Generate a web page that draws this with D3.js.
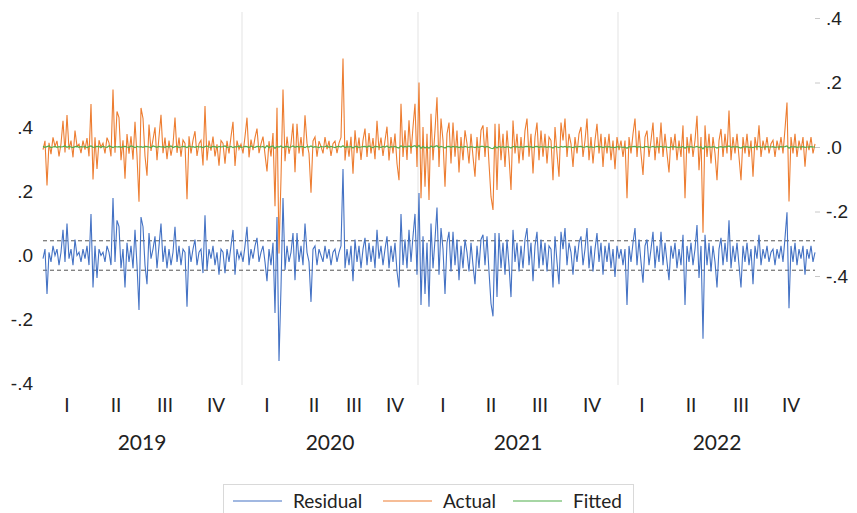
<!DOCTYPE html>
<html>
<head>
<meta charset="utf-8">
<script src="https://cdn.jsdelivr.net/npm/d3@7"></script>
<style>
  body { margin: 0; background: #fff; }
  svg { display: block; font-family: Lato, "Open Sans", sans-serif; }
  .tick text { fill: #222; }
</style>
</head>
<body>
<div id="chart"></div>
<script>
var years = ['2019', '2020', '2021', '2022'];
var quarterLabels = ['I', 'II', 'III', 'IV'];
// observations per quarter, 2019Q1 .. 2022Q4
var quarterLengths = [25, 24, 25, 26, 25, 22, 18, 23, 25, 23, 26, 26, 24, 25, 25, 25];
var leftTicks = [0.4, 0.2, 0, -0.2, -0.4];
var rightTicks = [0.4, 0.2, 0, -0.2, -0.4];
// +/- one standard error of regression
var residualBand = [-0.046, 0.046];

var residual = [
  -0.01, 0.02, -0.12, 0.01, -0.02, 0.03, 0.00, 0.02, -0.03, 0.01,
  0.08, -0.02, 0.10, -0.01, 0.02, -0.03, 0.05, 0.00, 0.01, -0.02,
  0.02, -0.01, 0.03, -0.03, 0.13, -0.10, 0.03, -0.07, 0.02, 0.00,
  0.01, -0.02, 0.03, 0.01, -0.03, 0.18, -0.02, 0.11, 0.09, -0.04,
  0.02, -0.10, 0.04, -0.02, 0.03, -0.04, 0.08, -0.03, -0.17, 0.12,
  0.09, -0.03, -0.09, 0.07, -0.01, 0.02, 0.06, -0.04, 0.03, 0.10,
  -0.02, 0.03, -0.04, 0.02, -0.03, 0.01, 0.09, -0.02, 0.03, -0.03,
  0.02, 0.01, -0.16, 0.03, -0.02, 0.02, 0.05, -0.03, 0.01, 0.02,
  -0.055, 0.126, -0.045, 0.02, -0.01, 0.03, -0.03, 0.01, -0.06, 0.02,
  0.01, -0.055, 0.02, -0.02, 0.03, 0.08, -0.06, 0.02, -0.01, 0.01,
  -0.02, 0.03, 0.09, -0.03, 0.02, -0.01, 0.03, 0.055, -0.02, 0.01,
  0.03, -0.02, -0.08, 0.02, -0.03, 0.04, -0.18, 0.12, -0.33, -0.10,
  0.18, -0.045, 0.03, -0.02, 0.01, 0.07, -0.077, 0.07, -0.02, 0.03,
  -0.03, 0.10, 0.01, -0.02, -0.145, 0.02, 0.03, -0.03, 0.02, 0.00,
  -0.02, 0.03, -0.01, 0.02, -0.03, 0.01, 0.02, -0.02, 0.01, 0.03,
  0.27, -0.04, 0.02, -0.03, 0.03, -0.08, 0.05, -0.02, 0.03, -0.04,
  0.02, 0.055, -0.03, 0.04, -0.02, 0.03, -0.04, 0.08, -0.01, 0.03,
  -0.03, 0.02, 0.06, -0.04, 0.03, -0.02, 0.04, -0.05, -0.10, 0.13,
  -0.03, 0.05, -0.04, 0.08, -0.02, 0.06, 0.13, -0.06, 0.195, -0.155,
  0.06, -0.12, 0.04, -0.16, 0.10, -0.04, 0.05, 0.15, -0.06, 0.086,
  0.02, -0.12, 0.04, 0.074, -0.05, 0.074, -0.03, 0.05, -0.077, 0.03,
  -0.04, 0.05, 0.01, -0.05, 0.04, -0.03, -0.09, 0.03, -0.04, 0.05,
  0.065, -0.03, 0.06, -0.05, -0.15, -0.19, 0.07, -0.13, 0.07, -0.04,
  0.04, -0.06, 0.05, -0.03, -0.13, 0.08, -0.02, 0.04, -0.05, 0.03,
  -0.04, 0.05, 0.086, -0.03, 0.04, -0.08, 0.03, 0.074, -0.04, 0.05,
  -0.03, 0.04, -0.05, 0.03, 0.02, -0.10, 0.06, -0.02, -0.09, 0.074,
  0.02, 0.086, -0.03, 0.04, 0.01, -0.06, 0.03, -0.02, 0.04, 0.06,
  -0.03, 0.02, 0.086, -0.04, 0.03, -0.05, 0.02, 0.07, -0.02, 0.04,
  -0.06, 0.03, -0.02, 0.04, -0.04, 0.02, -0.067, 0.03, -0.01, 0.02,
  -0.03, 0.02, -0.155, 0.03, -0.02, 0.04, 0.086, -0.03, 0.05, -0.02,
  -0.085, 0.03, 0.05, -0.03, 0.02, 0.074, -0.04, 0.03, -0.02, 0.074,
  -0.03, 0.04, -0.02, -0.077, 0.03, -0.01, 0.04, -0.04, 0.02, -0.03,
  0.065, -0.155, 0.03, -0.02, 0.04, -0.03, 0.02, 0.095, -0.07, 0.03,
  -0.26, 0.065, -0.03, 0.04, -0.05, 0.03, -0.02, -0.10, 0.02, 0.055,
  -0.03, 0.04, -0.02, 0.11, -0.04, 0.03, -0.02, 0.04, -0.03, -0.10,
  0.03, -0.02, 0.04, -0.03, 0.02, -0.09, 0.03, -0.01, 0.065, -0.03,
  0.02, -0.01, 0.03, -0.02, 0.01, 0.02, -0.03, 0.02, -0.01, 0.03,
  -0.02, 0.055, 0.135, -0.165, 0.03, -0.02, 0.04, -0.03, 0.02, -0.01,
  0.03, -0.06, 0.02, -0.01, 0.03, -0.02, 0.01
];

var fitted = [
  0.002, -0.001, 0.001, 0.003, -0.002, 0.000, 0.002, -0.001, 0.001, 0.000,
  0.001, 0.003, -0.001, 0.002, 0.000, -0.002, 0.001, 0.002, -0.001, 0.001,
  0.000, 0.002, -0.002, 0.001, 0.003, -0.001, 0.000, 0.002, 0.001, -0.001,
  0.002, 0.000, -0.001, 0.003, 0.001, -0.002, 0.002, 0.000, 0.001, -0.001,
  0.001, 0.002, 0.000, -0.001, 0.003, 0.001, -0.002, 0.002, 0.000, 0.001,
  -0.001, 0.002, 0.001, 0.000, -0.002, 0.003, 0.001, -0.001, 0.002, 0.000,
  0.001, -0.001, 0.002, 0.000, 0.003, -0.002, 0.001, 0.002, -0.001, 0.000,
  0.002, 0.001, -0.002, 0.003, 0.000, 0.001, -0.001, 0.002, 0.000, 0.001,
  -0.002, 0.001, 0.003, 0.000, -0.001, 0.002, 0.001, -0.002, 0.002, 0.000,
  0.001, 0.003, -0.001, 0.000, 0.002, -0.002, 0.001, 0.000, 0.003, -0.001,
  0.000, 0.002, 0.001, -0.002, 0.003, 0.000, -0.001, 0.002, 0.001, 0.000,
  0.002, -0.003, 0.004, -0.002, 0.001, 0.003, -0.004, 0.002, 0.000, 0.003,
  -0.002, 0.001, 0.002, -0.001, 0.000, 0.003, -0.001, 0.002, 0.000, 0.001,
  0.001, -0.002, 0.002, 0.000, 0.003, -0.001, 0.001, 0.000, -0.002, 0.002,
  0.000, 0.001, 0.003, -0.001, 0.002, 0.000, -0.002, 0.001, 0.002, 0.000,
  0.004, -0.002, 0.001, 0.000, 0.002, -0.003, 0.002, 0.001, -0.001, 0.000,
  0.001, 0.002, -0.001, 0.003, 0.000, -0.002, 0.002, 0.001, 0.000, -0.001,
  0.002, 0.000, 0.003, -0.002, 0.001, 0.000, 0.002, -0.001, -0.003, 0.004,
  -0.001, 0.002, 0.000, 0.003, -0.001, 0.002, 0.004, -0.002, 0.005, -0.004,
  0.002, -0.003, 0.001, -0.004, 0.003, -0.001, 0.002, 0.004, -0.002, 0.002,
  0.000, -0.003, 0.001, 0.002, -0.001, 0.002, 0.000, 0.001, -0.002, 0.001,
  -0.001, 0.002, 0.000, -0.001, 0.001, 0.000, -0.002, 0.001, -0.001, 0.002,
  0.002, -0.001, 0.002, -0.001, -0.004, -0.005, 0.002, -0.003, 0.002, -0.001,
  0.001, -0.002, 0.001, 0.000, -0.003, 0.002, 0.000, 0.001, -0.001, 0.001,
  -0.001, 0.001, 0.002, 0.000, 0.001, -0.002, 0.001, 0.002, -0.001, 0.001,
  0.000, 0.001, -0.001, 0.001, 0.000, -0.003, 0.002, 0.000, -0.002, 0.002,
  0.000, 0.002, -0.001, 0.001, 0.000, -0.002, 0.001, 0.000, 0.001, 0.002,
  -0.001, 0.000, 0.002, -0.001, 0.001, -0.001, 0.000, 0.002, 0.000, 0.001,
  -0.002, 0.001, 0.000, 0.001, -0.001, 0.000, -0.002, 0.001, 0.000, 0.000,
  -0.001, 0.000, -0.004, 0.001, 0.000, 0.001, 0.002, -0.001, 0.001, 0.000,
  -0.002, 0.001, 0.001, -0.001, 0.000, 0.002, -0.001, 0.001, 0.000, 0.002,
  -0.001, 0.001, 0.000, -0.002, 0.001, 0.000, 0.001, -0.001, 0.000, -0.001,
  0.002, -0.004, 0.001, 0.000, 0.001, -0.001, 0.000, 0.002, -0.002, 0.001,
  -0.006, 0.002, -0.001, 0.001, -0.001, 0.001, 0.000, -0.003, 0.000, 0.001,
  -0.001, 0.001, 0.000, 0.003, -0.001, 0.001, 0.000, 0.001, -0.001, -0.003,
  0.001, 0.000, 0.001, -0.001, 0.000, -0.002, 0.001, 0.000, 0.002, -0.001,
  0.000, 0.000, 0.001, 0.000, 0.000, 0.001, -0.001, 0.000, 0.000, 0.001,
  0.000, 0.001, 0.003, -0.004, 0.001, 0.000, 0.001, -0.001, 0.000, 0.000,
  0.001, -0.001, 0.000, 0.000, 0.001, 0.000, 0.000
];

// actual = fitted + residual, by definition
var actual = residual.map(function(r, i) { return fitted[i] + r; });

var width = 857, height = 513;
var plotTop = 12, plotBottom = 385;
var n = residual.length;

var svg = d3.select('#chart').append('svg')
  .attr('width', width)
  .attr('height', height);

svg.append('rect').attr('width', width).attr('height', height).attr('fill', '#fff');

var x = d3.scaleLinear().domain([0, n - 1]).range([43, 815]);
var yLeft = d3.scaleLinear().domain([-0.4, 0.4]).range([383.5, 127.5]);
var yRight = d3.scaleLinear().domain([-0.4, 0.4]).range([276, 18]);

// EViews style: ".4", ".0", "-.2" with a plain hyphen
var fmt = function(d) {
  return d3.format('.1f')(d).replace('\u2212', '-').replace('0.', '.');
};

// quarter / year boundaries in observation index
var bounds = [0];
quarterLengths.forEach(function(len) { bounds.push(bounds[bounds.length - 1] + len); });

// year separator lines
svg.append('g').selectAll('line')
  .data([4, 8, 12])
  .enter().append('line')
  .attr('x1', function(q) { return x(bounds[q] - 0.5); })
  .attr('x2', function(q) { return x(bounds[q] - 0.5); })
  .attr('y1', plotTop)
  .attr('y2', plotBottom)
  .attr('stroke', '#e3e3e3')
  .attr('stroke-width', 1);

// standard error band of the residual
svg.append('g').selectAll('line')
  .data(residualBand)
  .enter().append('line')
  .attr('x1', x(0))
  .attr('x2', x(n - 1))
  .attr('y1', function(d) { return yLeft(d); })
  .attr('y2', function(d) { return yLeft(d); })
  .attr('stroke', '#555')
  .attr('stroke-width', 1)
  .attr('stroke-dasharray', '4,3');

var lineLeft = d3.line()
  .x(function(d, i) { return x(i); })
  .y(function(d) { return yLeft(d); });

var lineRight = d3.line()
  .x(function(d, i) { return x(i); })
  .y(function(d) { return yRight(d); });

var colors = { residual: '#4472c4', actual: '#ed7d31', fitted: '#4fae4a' };

svg.append('path').datum(actual)
  .attr('d', lineRight)
  .attr('fill', 'none')
  .attr('stroke', colors.actual)
  .attr('stroke-width', 1.1);

svg.append('path').datum(fitted)
  .attr('d', lineRight)
  .attr('fill', 'none')
  .attr('stroke', colors.fitted)
  .attr('stroke-width', 1.2);

svg.append('path').datum(residual)
  .attr('d', lineLeft)
  .attr('fill', 'none')
  .attr('stroke', colors.residual)
  .attr('stroke-width', 1.1);

// Left axis (residual).
var leftAxis = svg.append('g')
  .attr('transform', 'translate(35,0)')
  .call(d3.axisLeft(yLeft).tickValues(leftTicks).tickFormat(fmt).tickSize(0).tickPadding(2));
leftAxis.select('.domain').remove();
leftAxis.selectAll('text').style('font-size', '19px');

// Right axis (actual / fitted).
var rightAxis = svg.append('g')
  .attr('transform', 'translate(815,0)')
  .call(d3.axisRight(yRight).tickValues(rightTicks).tickFormat(fmt).tickSize(5).tickPadding(6));
rightAxis.select('.domain').remove();
rightAxis.selectAll('line').attr('stroke', '#c8c8c8');
rightAxis.selectAll('text').style('font-size', '19px');

// Quarter labels.
svg.append('g').selectAll('text')
  .data(quarterLengths)
  .enter().append('text')
  .attr('x', function(d, q) { return x((bounds[q] + bounds[q + 1] - 1) / 2); })
  .attr('y', 412)
  .attr('text-anchor', 'middle')
  .attr('fill', '#222')
  .style('font-size', '19px')
  .text(function(d, q) { return quarterLabels[q % 4]; });

// Year labels.
svg.append('g').selectAll('text')
  .data(years)
  .enter().append('text')
  .attr('x', function(d, k) { return x((bounds[k * 4] + bounds[k * 4 + 4] - 1) / 2); })
  .attr('y', 450)
  .attr('text-anchor', 'middle')
  .attr('fill', '#222')
  .style('font-size', '21px')
  .text(function(d) { return d; });

// Legend.
var legend = svg.append('g');
legend.append('rect')
  .attr('x', 223.5).attr('y', 484.5)
  .attr('width', 410).attr('height', 40)
  .attr('fill', '#fff')
  .attr('stroke', '#d9d9d9');

var legendItems = [
  { label: 'Residual', color: colors.residual, x: 233 },
  { label: 'Actual', color: colors.actual, x: 383 },
  { label: 'Fitted', color: colors.fitted, x: 513 }
];

var item = legend.selectAll('g.item')
  .data(legendItems)
  .enter().append('g')
  .attr('class', 'item')
  .attr('transform', function(d) { return 'translate(' + d.x + ',501)'; });

item.append('line')
  .attr('x1', 0).attr('x2', 49)
  .attr('stroke', function(d) { return d.color; })
  .attr('stroke-width', 1.2);

item.append('text')
  .attr('x', 60)
  .attr('dy', '0.35em')
  .attr('fill', '#222')
  .style('font-size', '19px')
  .text(function(d) { return d.label; });
</script>
</body>
</html>
